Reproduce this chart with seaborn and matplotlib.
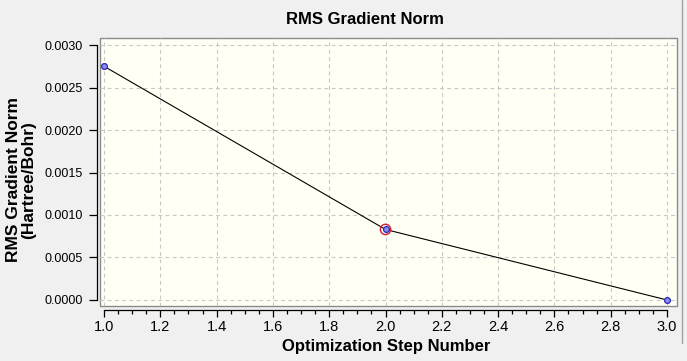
import matplotlib
matplotlib.use("Agg")
import matplotlib.pyplot as plt
import matplotlib.ticker as mticker
from matplotlib.lines import Line2D
import seaborn as sns
import pandas as pd

# ---- data ----
steps = [1, 2, 3]
rms_gradient = [0.00275, 0.00083, 0.00000]
highlight_step = [2]
highlight_value = [0.00083]
title_text = "RMS Gradient Norm"
xlabel_text = "Optimization Step Number"
ylabel_text = "RMS Gradient Norm\n(Hartree/Bohr)"

sns.set_style("white")
plt.rcParams['font.family'] = ['Liberation Sans', 'DejaVu Sans']
plt.rcParams['text.color'] = 'black'
plt.rcParams['xtick.color'] = 'black'
plt.rcParams['ytick.color'] = 'black'
plt.rcParams['axes.labelcolor'] = 'black'

W, H = 687, 361
fig = plt.figure(figsize=(W / 100, H / 100), dpi=100, facecolor='#f0f0f0')
ax = fig.add_axes([100 / W, 55.5 / H, 577 / W, 267.5 / H])

df = pd.DataFrame({"step": steps, "rms": rms_gradient})
sns.lineplot(data=df, x="step", y="rms", ax=ax, color='black', lw=0.8,
             marker='o', markersize=4.2, markerfacecolor='#8c8cf0',
             markeredgecolor='#2a2ab8', markeredgewidth=0.9, zorder=5)
ax.scatter(highlight_step, highlight_value, s=55, facecolors='none',
           edgecolors='#d02030', linewidths=1.0, zorder=6)

ax.set_xlim(1 - 4 / 281.8, 3 + 10 / 281.8)
ax.set_ylim(-5.5 / 84833, 0.003 + 7 / 84833)

ax.set_facecolor('#fffff4')
ax.patch.set_edgecolor('#8a8a8a')
ax.patch.set_linewidth(1.0)
for s in ['top', 'right']:
    ax.spines[s].set_visible(False)
ax.spines['left'].set_position(('outward', 2.4))
ax.spines['bottom'].set_position(('outward', 3.1))
ax.spines['left'].set_bounds(0, 0.003)
ax.spines['bottom'].set_bounds(1, 3)
for s in ['left', 'bottom']:
    ax.spines[s].set_color('black')
    ax.spines[s].set_linewidth(0.9)

ax.xaxis.set_major_locator(mticker.MultipleLocator(0.2))
ax.xaxis.set_minor_locator(mticker.MultipleLocator(0.05))
ax.yaxis.set_major_locator(mticker.MultipleLocator(0.0005))
ax.xaxis.set_major_formatter(mticker.FormatStrFormatter('%.1f'))
ax.yaxis.set_major_formatter(mticker.FormatStrFormatter('%.4f'))

ax.tick_params(axis='y', which='major', direction='out', length=5.8, width=0.9,
               pad=4, labelsize=9, color='black', labelcolor='black', left=True)
ax.tick_params(axis='x', which='major', direction='out', length=5.3, width=0.9,
               pad=2, labelsize=10.5, color='black', labelcolor='black', bottom=True)
ax.tick_params(axis='x', which='minor', direction='out', length=2.9, width=0.9,
               color='black', bottom=True)

ax.grid(True, which='major', linestyle=(0, (3.5, 3)), color='#c8c8c8', lw=0.8)
ax.set_axisbelow(True)
ax.set_xlabel("")
ax.set_ylabel("")

fig.text(364.5 / W, 1 - 20 / H, title_text, ha='center', va='center',
         fontsize=12, fontweight='bold', color='black')
fig.text(386.5 / W, 1 - 347 / H, xlabel_text, ha='center', va='center',
         fontsize=12, fontweight='bold', color='black')
fig.text(21 / W, 1 - 180 / H, ylabel_text, ha='center', va='center',
         rotation=90, fontsize=12.5, fontweight='bold', linespacing=1.05,
         color='black')

fig.add_artist(Line2D([681.5 / W, 681.5 / W], [18 / H, 1], transform=fig.transFigure,
                      color='#a0a0a0', lw=1.0))

fig.savefig("out.png", dpi=100, facecolor=fig.get_facecolor())
